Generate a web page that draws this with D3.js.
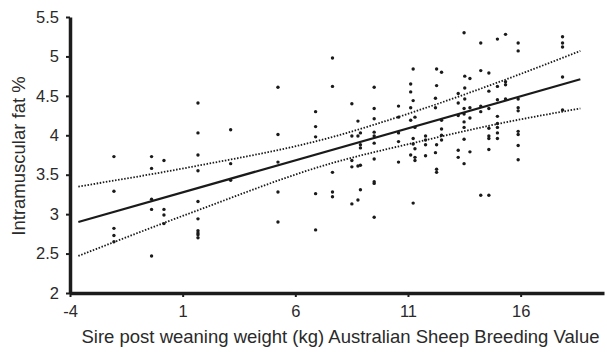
<!DOCTYPE html>
<html>
<head>
<meta charset="utf-8">
<script src="https://cdn.jsdelivr.net/npm/d3@7"></script>
<style>
  html, body { margin: 0; padding: 0; background: #fff; }
  svg text { font-family: "Liberation Sans", Arial, sans-serif; fill: #2a2a2a; }
  .axis .domain { stroke: #1c1c1c; stroke-width: 3.5; }
  .axis .tick line { stroke: #1c1c1c; stroke-width: 2; }
</style>
</head>
<body>
<div id="chart"></div>
<script>
// sire PWWT ASBV columns (kg) and the IMF % values of the progeny in each column
const sireBV = [-2.05, -0.38, 0.17, 1.68, 3.13, 5.23, 6.90, 7.65, 8.51, 8.78, 8.89, 9.50,
  10.58, 11.12, 11.23, 11.31, 11.78, 12.22, 12.27, 12.49, 13.23, 13.49, 13.52, 13.75,
  14.23, 14.59, 14.97, 15.33, 15.89, 17.86];
const imfValues = [
  [3.73, 3.29, 2.82, 2.73, 2.65],
  [3.73, 3.58, 3.19, 3.06, 2.47],
  [3.68, 3.06, 2.99, 2.88],
  [4.41, 4.03, 3.75, 3.55, 3.16, 2.94, 2.79, 2.76, 2.74, 2.70],
  [4.07, 3.64, 3.43],
  [4.61, 4.01, 3.66, 3.28, 2.90],
  [4.30, 4.11, 3.98, 3.26, 2.80],
  [4.98, 4.62, 3.53, 3.28, 3.22],
  [4.40, 3.99, 3.68, 3.60, 3.13],
  [4.18, 3.99, 3.61, 3.18],
  [4.03, 3.88, 3.84, 3.62, 3.31],
  [4.61, 4.34, 4.21, 4.04, 3.99, 3.90, 3.70, 3.41, 3.39, 2.96],
  [4.37, 4.23, 4.03, 3.92, 3.66],
  [4.65, 4.55, 4.35, 4.19, 3.75],
  [4.84, 4.44, 3.96, 3.89, 3.14],
  [4.23, 4.10, 3.83, 3.72, 3.68],
  [3.99, 3.94, 3.88, 3.74],
  [4.47, 4.35, 3.78],
  [4.84, 4.63, 3.88, 3.57, 3.53],
  [4.80, 4.19, 4.08, 4.00, 3.94],
  [4.53, 4.41, 4.25, 3.81, 3.72],
  [5.30, 4.34, 4.27, 4.17, 4.10, 3.95, 3.64],
  [4.75, 4.60, 4.46],
  [4.72, 4.35, 4.22, 3.79],
  [5.17, 4.82, 4.37, 4.30, 3.24],
  [4.79, 4.56, 4.34, 4.09, 3.99, 3.96, 3.82, 3.24],
  [5.22, 4.62, 4.45, 4.24, 4.15, 4.10, 4.03, 3.96],
  [5.28, 4.68, 4.64, 4.46],
  [5.17, 5.07, 4.46, 4.35, 4.31, 4.05, 4.01, 3.87, 3.69],
  [5.25, 5.17, 5.12, 4.74, 4.32]
];

// fitted regression line and 95% confidence band
const fitX = [-3.63, 18.65];
const fitY = [2.90, 4.71];
const bandX = [-3.63, 1.4, 7.54, 11.5, 15.08, 18.65];
const upperY = [3.35, 3.60, 3.97, 4.32, 4.68, 5.07];
const lowerY = [2.47, 3.02, 3.64, 3.92, 4.15, 4.34];

const xTicks = [-4, 1, 6, 11, 16];
const yTicks = [2, 2.5, 3, 3.5, 4, 4.5, 5, 5.5];

const width = 607, height = 352;
const margin = {top: 17, right: 3, bottom: 59, left: 70};

const svg = d3.select('#chart').append('svg')
  .attr('width', width)
  .attr('height', height);

const x = d3.scaleLinear().domain([-4, 19.7]).range([margin.left, width - margin.right]);
const y = d3.scaleLinear().domain([2, 5.5]).range([height - margin.bottom, margin.top]);

// points
const points = [];
sireBV.forEach((bv, i) => imfValues[i].forEach(v => points.push({x: bv, y: v})));

svg.append('g')
  .selectAll('circle')
  .data(points)
  .enter()
  .append('circle')
  .attr('cx', d => x(d.x))
  .attr('cy', d => y(d.y))
  .attr('r', 1.7)
  .attr('fill', '#1a1a1a');

// confidence band (dotted)
const bandLine = d3.line()
  .x(d => x(d[0]))
  .y(d => y(d[1]))
  .curve(d3.curveMonotoneX);

[upperY, lowerY].forEach(ys => {
  svg.append('path')
    .datum(bandX.map((bx, i) => [bx, ys[i]]))
    .attr('d', bandLine)
    .attr('fill', 'none')
    .attr('stroke', '#1a1a1a')
    .attr('stroke-width', 1.8)
    .attr('stroke-dasharray', '1.5,1.6');
});

// regression line
svg.append('line')
  .attr('x1', x(fitX[0])).attr('y1', y(fitY[0]))
  .attr('x2', x(fitX[1])).attr('y2', y(fitY[1]))
  .attr('stroke', '#1a1a1a')
  .attr('stroke-width', 2.2);

// axes
svg.append('g')
  .attr('class', 'axis')
  .attr('transform', 'translate(0,' + y(2) + ')')
  .call(d3.axisBottom(x).tickValues(xTicks).tickSize(4).tickSizeOuter(0).tickPadding(8)
    .tickFormat(d => String(d)))
  .call(g => g.selectAll('text').style('font-size', '16.5px'));

svg.append('g')
  .attr('class', 'axis')
  .attr('transform', 'translate(' + x(-4) + ',0)')
  .call(d3.axisLeft(y).tickValues(yTicks).tickSize(4).tickSizeOuter(0).tickPadding(7)
    .tickFormat(d => String(d)))
  .call(g => g.selectAll('text').style('font-size', '16.5px'));

// axis titles
svg.append('text')
  .attr('x', 340.5)
  .attr('y', 343)
  .attr('text-anchor', 'middle')
  .style('font-size', '18.5px')
  .text('Sire post weaning weight (kg) Australian Sheep Breeding Value');

svg.append('text')
  .attr('transform', 'translate(25,156) rotate(-90)')
  .attr('text-anchor', 'middle')
  .style('font-size', '18.5px')
  .text('Intramuscular fat %');
</script>
</body>
</html>
